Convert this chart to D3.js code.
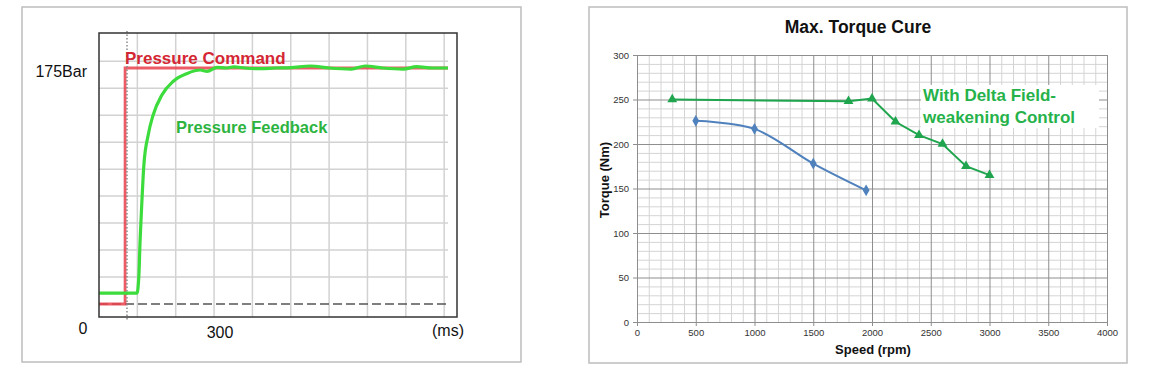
<!DOCTYPE html>
<html>
<head>
<meta charset="utf-8">
<script src="https://cdn.jsdelivr.net/npm/d3@7"></script>
<style>
  body { margin: 0; background: #fff; }
  text { font-family: Arial, "Liberation Sans", sans-serif; }
</style>
</head>
<body>
<svg id="chart" width="1167" height="372"></svg>
<script>
// ---- left chart: pressure step response ----
var commandT = [0, 68, 68, 910];
var commandP = [0, 0, 175, 175];

var feedbackT = [0, 99, 104, 107, 111, 117, 128, 141, 164, 193, 230, 264, 282, 308, 330, 352, 380, 420, 460, 500, 551, 600, 658, 694, 740, 794, 828, 870, 910];
var feedbackP = [8, 8, 21, 46, 71, 103, 125, 140, 155, 165, 171, 173.5, 172.5, 175.5, 175, 175.8, 175, 174.5, 175, 175.3, 176.5, 175, 174.2, 176.5, 175, 174.2, 176, 175, 175];

var timeGrid = [100, 200, 300, 400, 500, 600, 700, 800, 900];
var pressGrid = [20, 40, 60, 80, 100, 120, 140, 160, 180];

// ---- right chart: max torque curve ----
var speedTicks = [0, 500, 1000, 1500, 2000, 2500, 3000, 3500, 4000];
var torqueTicks = [0, 50, 100, 150, 200, 250, 300];

var stdSpeed = [500, 1000, 1500, 1950];
var stdTorque = [226, 217, 178, 148];

var deltaSpeed = [300, 1800, 2000, 2200, 2400, 2600, 2800, 3000];
var deltaTorque = [250, 248, 251, 225, 210, 200, 175, 165];

var svg = d3.select('#chart');

/* ================= left panel ================= */
svg.append('rect')
  .attr('x', 22).attr('y', 7).attr('width', 499).attr('height', 355)
  .attr('fill', 'none').attr('stroke', '#bdbdbd').attr('stroke-width', 1.5);

var tL = d3.scaleLinear().domain([0, 910]).range([99, 448]);
var pL = d3.scaleLinear().domain([0, 175]).range([304, 68]);

var left = svg.append('g');

left.selectAll('.vg').data(timeGrid).enter().append('line')
  .attr('x1', function(d) { return tL(d); }).attr('x2', function(d) { return tL(d); })
  .attr('y1', 33).attr('y2', 317)
  .attr('stroke', '#d2d2d2').attr('stroke-width', 1.5);

left.selectAll('.hg').data(pressGrid).enter().append('line')
  .attr('x1', tL(0)).attr('x2', tL(910))
  .attr('y1', function(d) { return pL(d); }).attr('y2', function(d) { return pL(d); })
  .attr('stroke', '#d2d2d2').attr('stroke-width', 1.5);

// zero reference (dashed)
left.append('line')
  .attr('x1', tL(0)).attr('x2', tL(910))
  .attr('y1', pL(0)).attr('y2', pL(0))
  .attr('stroke', '#555').attr('stroke-width', 1.3)
  .attr('stroke-dasharray', '9,4');

var lineL = d3.line()
  .x(function(d) { return tL(d[0]); })
  .y(function(d) { return pL(d[1]); });

var cmd = d3.zip(commandT, commandP);
left.append('path').datum(cmd)
  .attr('d', lineL)
  .attr('fill', 'none').attr('stroke', '#e8404c').attr('stroke-width', 2.8)
  .attr('stroke-opacity', 0.85);

// trigger marker (dotted)
left.append('line')
  .attr('x1', tL(73)).attr('x2', tL(73))
  .attr('y1', 31).attr('y2', 320)
  .attr('stroke', '#8a8a8a').attr('stroke-width', 1.5)
  .attr('stroke-dasharray', '1.5,2');

var fb = d3.zip(feedbackT, feedbackP);
left.append('path').datum(fb)
  .attr('d', lineL.curve(d3.curveMonotoneX))
  .attr('fill', 'none').attr('stroke', '#3ddc3d').attr('stroke-width', 3.2)
  .attr('stroke-linejoin', 'round');

left.append('rect')
  .attr('x', 99).attr('y', 33).attr('width', 358).attr('height', 284)
  .attr('fill', 'none').attr('stroke', '#333').attr('stroke-width', 1.5);

left.append('text').attr('x', 125).attr('y', 64)
  .attr('font-size', 17).attr('font-weight', 'bold').attr('fill', '#d42633')
  .text('Pressure Command');
left.append('text').attr('x', 176).attr('y', 133)
  .attr('font-size', 16.5).attr('font-weight', 'bold').attr('fill', '#2db43f')
  .text('Pressure Feedback');

left.append('text').attr('x', 87).attr('y', pL(175) + 9)
  .attr('text-anchor', 'end').attr('font-size', 16).attr('fill', '#111')
  .text('175Bar');
left.append('text').attr('x', tL(0) - 16).attr('y', 334)
  .attr('text-anchor', 'middle').attr('font-size', 16).attr('fill', '#111')
  .text('0');
left.append('text').attr('x', tL(300) + 6).attr('y', 338)
  .attr('text-anchor', 'middle').attr('font-size', 16).attr('fill', '#111')
  .text('300');
left.append('text').attr('x', 448).attr('y', 336)
  .attr('text-anchor', 'middle').attr('font-size', 16).attr('fill', '#111')
  .text('(ms)');

/* ================= right panel ================= */
svg.append('rect')
  .attr('x', 589).attr('y', 7).attr('width', 538).attr('height', 356)
  .attr('fill', 'none').attr('stroke', '#bdbdbd').attr('stroke-width', 1.5);

var x = d3.scaleLinear().domain([0, 4000]).range([637, 1107]);
var y = d3.scaleLinear().domain([0, 300]).range([322, 55]);

var right = svg.append('g');

var minorX = d3.range(0, 4001, 100);
var minorY = d3.range(0, 301, 10);

right.selectAll('.mx').data(minorX.filter(function(d) { return d % 500 !== 0; })).enter().append('line')
  .attr('x1', function(d) { return x(d) + 0.5; }).attr('x2', function(d) { return x(d) + 0.5; })
  .attr('y1', y(300)).attr('y2', y(0))
  .attr('stroke', '#d4d4d4');
right.selectAll('.my').data(minorY.filter(function(d) { return d % 50 !== 0; })).enter().append('line')
  .attr('x1', x(0)).attr('x2', x(4000))
  .attr('y1', function(d) { return y(d) + 0.5; }).attr('y2', function(d) { return y(d) + 0.5; })
  .attr('stroke', '#d4d4d4');
right.selectAll('.Mx').data(speedTicks).enter().append('line')
  .attr('x1', function(d) { return x(d) + 0.5; }).attr('x2', function(d) { return x(d) + 0.5; })
  .attr('y1', y(300)).attr('y2', y(0))
  .attr('stroke', '#8e8e8e');
right.selectAll('.My').data(torqueTicks).enter().append('line')
  .attr('x1', x(0)).attr('x2', x(4000))
  .attr('y1', function(d) { return y(d) + 0.5; }).attr('y2', function(d) { return y(d) + 0.5; })
  .attr('stroke', '#8e8e8e');

var xAxis = right.append('g')
  .attr('transform', 'translate(0,' + y(0) + ')')
  .call(d3.axisBottom(x).tickValues(speedTicks).tickFormat(d3.format('d'))
    .tickSize(4).tickSizeOuter(0).tickPadding(3));
var yAxis = right.append('g')
  .attr('transform', 'translate(' + x(0) + ',0)')
  .call(d3.axisLeft(y).tickValues(torqueTicks).tickFormat(d3.format('d'))
    .tickSize(4).tickSizeOuter(0).tickPadding(4));
[xAxis, yAxis].forEach(function(a) {
  a.selectAll('path, line').attr('stroke', '#8e8e8e');
  a.selectAll('text').attr('font-size', 9.5).attr('fill', '#333')
    .attr('font-family', 'Arial, "Liberation Sans", sans-serif');
});

// white box behind annotation
right.append('rect')
  .attr('x', 921).attr('y', 85).attr('width', 178).attr('height', 43)
  .attr('fill', '#fff');

var lineR = d3.line()
  .x(function(d) { return x(d[0]); })
  .y(function(d) { return y(d[1]); });

var std = d3.zip(stdSpeed, stdTorque);
right.append('path').datum(std)
  .attr('d', lineR.curve(d3.curveCatmullRom.alpha(0.5)))
  .attr('fill', 'none').attr('stroke', '#4f81bd').attr('stroke-width', 2);
right.selectAll('.dm').data(std).enter().append('path')
  .attr('transform', function(d) { return 'translate(' + x(d[0]) + ',' + y(d[1]) + ')'; })
  .attr('d', d3.symbol(d3.symbolDiamond, 40))
  .attr('fill', '#4f81bd');

var dlt = d3.zip(deltaSpeed, deltaTorque);
right.append('path').datum(dlt)
  .attr('d', lineR.curve(d3.curveLinear))
  .attr('fill', 'none').attr('stroke', '#1ea54e').attr('stroke-width', 2);
right.selectAll('.tr').data(dlt).enter().append('path')
  .attr('transform', function(d) { return 'translate(' + x(d[0]) + ',' + y(d[1]) + ')'; })
  .attr('d', d3.symbol(d3.symbolTriangle, 42))
  .attr('fill', '#1ea54e');

right.append('text').attr('x', 923).attr('y', 101)
  .attr('font-size', 17).attr('font-weight', 'bold').attr('fill', '#26b24a')
  .text('With Delta Field-');
right.append('text').attr('x', 923).attr('y', 123)
  .attr('font-size', 17).attr('font-weight', 'bold').attr('fill', '#26b24a')
  .text('weakening Control');

right.append('text').attr('x', 858).attr('y', 33)
  .attr('text-anchor', 'middle').attr('font-size', 17.5).attr('font-weight', 'bold')
  .attr('fill', '#111').text('Max. Torque Cure');

right.append('text').attr('x', 873).attr('y', 354)
  .attr('text-anchor', 'middle').attr('font-size', 13).attr('font-weight', 'bold')
  .attr('fill', '#111').text('Speed (rpm)');

right.append('text')
  .attr('transform', 'translate(609,180) rotate(-90)')
  .attr('text-anchor', 'middle').attr('font-size', 13).attr('font-weight', 'bold')
  .attr('fill', '#111').text('Torque (Nm)');
</script>
</body>
</html>
